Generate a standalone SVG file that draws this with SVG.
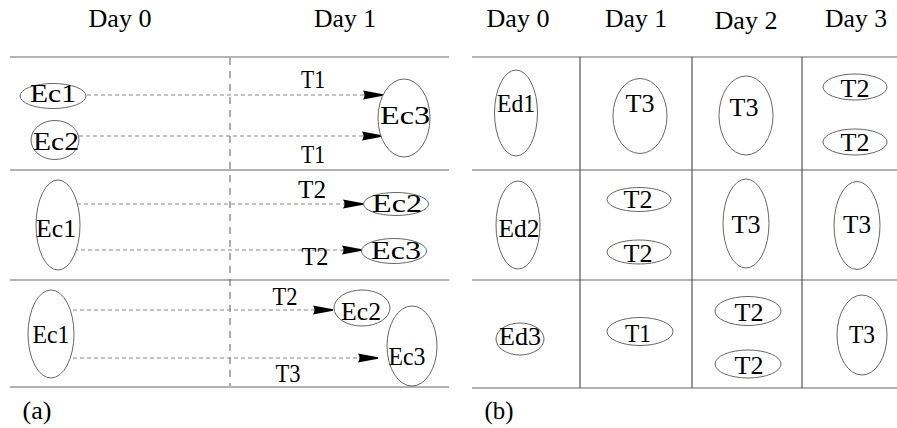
<svg xmlns="http://www.w3.org/2000/svg" width="897" height="428" viewBox="0 0 897 428">
<style>
text{font-family:"Liberation Serif","Times New Roman",Times,serif;font-size:26px;fill:#000;text-anchor:middle}
.n{fill:#fff;stroke:#666;stroke-width:1}
.h{stroke:#999;stroke-width:1.6}
.v{stroke:#555;stroke-width:1.2}
.vd{stroke:#777;stroke-width:1.2;stroke-dasharray:7 6}
.e{stroke:#888;stroke-width:1.2;stroke-dasharray:4 3;fill:none;marker-end:url(#ah)}
</style>
<defs>
<marker id="ah" markerUnits="userSpaceOnUse" markerWidth="22" markerHeight="12" refX="20" refY="5" orient="auto">
<path d="M0,0.5 L20,4.3 L20,5.7 L0,9.5 Q3,5 0,0.5 z" fill="#000"/>
</marker>
</defs>
<rect width="897" height="428" fill="#fff"/>
<g id="frame-a">
<text x="120" y="27" textLength="63" lengthAdjust="spacingAndGlyphs">Day 0</text>
<text x="345" y="27" textLength="62" lengthAdjust="spacingAndGlyphs">Day 1</text>
<line class="h" x1="10" y1="57" x2="449" y2="57"/>
<line class="h" x1="10" y1="170" x2="449" y2="170"/>
<line class="h" x1="10" y1="280" x2="449" y2="280"/>
<line class="h" x1="10" y1="387" x2="449" y2="387"/>
<line class="vd" x1="230" y1="58" x2="230" y2="386"/>
<text x="37" y="419" textLength="29" lengthAdjust="spacingAndGlyphs">(a)</text>
</g>
<g id="frame-b">
<text x="518" y="27" textLength="63" lengthAdjust="spacingAndGlyphs">Day 0</text>
<text x="636" y="27" textLength="62" lengthAdjust="spacingAndGlyphs">Day 1</text>
<text x="746" y="29" textLength="63" lengthAdjust="spacingAndGlyphs">Day 2</text>
<text x="856" y="27" textLength="62" lengthAdjust="spacingAndGlyphs">Day 3</text>
<line class="h" x1="472" y1="57" x2="897" y2="57"/>
<line class="h" x1="472" y1="170" x2="897" y2="170"/>
<line class="h" x1="472" y1="280" x2="897" y2="280"/>
<line class="h" x1="472" y1="388" x2="897" y2="388"/>
<line class="v" x1="580" y1="57" x2="580" y2="388"/>
<line class="v" x1="692" y1="57" x2="692" y2="388"/>
<line class="v" x1="802" y1="57" x2="802" y2="388"/>
<text x="499" y="419" textLength="29" lengthAdjust="spacingAndGlyphs">(b)</text>
</g>
<g id="connectors">
<line class="e" x1="87" y1="95" x2="383" y2="95"/>
<line class="e" x1="79" y1="136" x2="382" y2="136"/>
<line class="e" x1="77" y1="204" x2="363" y2="204"/>
<line class="e" x1="74" y1="250" x2="362" y2="250"/>
<line class="e" x1="73" y1="310" x2="333" y2="310"/>
<line class="e" x1="73" y1="358" x2="378" y2="358"/>
<text x="313" y="88" textLength="24" lengthAdjust="spacingAndGlyphs">T1</text>
<text x="313" y="163" textLength="24" lengthAdjust="spacingAndGlyphs">T1</text>
<text x="312" y="198" textLength="28" lengthAdjust="spacingAndGlyphs">T2</text>
<text x="315" y="265" textLength="27" lengthAdjust="spacingAndGlyphs">T2</text>
<text x="285" y="305" textLength="25" lengthAdjust="spacingAndGlyphs">T2</text>
<text x="288" y="382" textLength="25" lengthAdjust="spacingAndGlyphs">T3</text>
</g>
<g id="a1-ec1"><ellipse class="n" cx="53" cy="96" rx="33" ry="12.5"/><text x="53" y="102" textLength="46" lengthAdjust="spacingAndGlyphs">Ec1</text></g>
<g id="a1-ec2"><ellipse class="n" cx="55" cy="140" rx="24" ry="19.5"/><text x="56" y="150" textLength="46" lengthAdjust="spacingAndGlyphs">Ec2</text></g>
<g id="a1-ec3"><ellipse class="n" cx="404" cy="118" rx="26" ry="39"/><text x="405" y="124" textLength="50" lengthAdjust="spacingAndGlyphs">Ec3</text></g>
<g id="a2-ec1"><ellipse class="n" cx="58" cy="225" rx="22" ry="45"/><text x="56" y="237" textLength="40" lengthAdjust="spacingAndGlyphs">Ec1</text></g>
<g id="a2-ec2"><ellipse class="n" cx="396" cy="204" rx="32.5" ry="11.5"/><text x="397" y="212" textLength="50" lengthAdjust="spacingAndGlyphs">Ec2</text></g>
<g id="a2-ec3"><ellipse class="n" cx="394" cy="251" rx="32.5" ry="12.5"/><text x="396" y="259" textLength="50" lengthAdjust="spacingAndGlyphs">Ec3</text></g>
<g id="a3-ec1"><ellipse class="n" cx="51" cy="334" rx="23" ry="44"/><text x="51" y="343" textLength="37" lengthAdjust="spacingAndGlyphs">Ec1</text></g>
<g id="a3-ec2"><ellipse class="n" cx="362" cy="308" rx="28" ry="18"/><text x="361" y="320" textLength="40" lengthAdjust="spacingAndGlyphs">Ec2</text></g>
<g id="a3-ec3"><ellipse class="n" cx="412" cy="346" rx="25" ry="40"/><text x="407" y="365" textLength="37" lengthAdjust="spacingAndGlyphs">Ec3</text></g>
<g id="b1-ed1"><ellipse class="n" cx="516" cy="113" rx="21.5" ry="43"/><text x="516" y="112" textLength="38" lengthAdjust="spacingAndGlyphs">Ed1</text></g>
<g id="b1-t3a"><ellipse class="n" cx="640" cy="116" rx="27" ry="37.5"/><text x="640" y="112" textLength="29" lengthAdjust="spacingAndGlyphs">T3</text></g>
<g id="b1-t3b"><ellipse class="n" cx="746" cy="115.5" rx="27" ry="39.5"/><text x="744" y="116" textLength="29" lengthAdjust="spacingAndGlyphs">T3</text></g>
<g id="b1-t2a"><ellipse class="n" cx="855" cy="87" rx="32" ry="13"/><text x="855" y="97" textLength="29" lengthAdjust="spacingAndGlyphs">T2</text></g>
<g id="b1-t2b"><ellipse class="n" cx="855" cy="142" rx="32" ry="13"/><text x="855" y="151" textLength="29" lengthAdjust="spacingAndGlyphs">T2</text></g>
<g id="b2-ed2"><ellipse class="n" cx="518" cy="225" rx="22" ry="44"/><text x="519" y="237" textLength="41" lengthAdjust="spacingAndGlyphs">Ed2</text></g>
<g id="b2-t2a"><ellipse class="n" cx="639" cy="199.5" rx="32" ry="12"/><text x="638" y="208" textLength="29" lengthAdjust="spacingAndGlyphs">T2</text></g>
<g id="b2-t2b"><ellipse class="n" cx="639" cy="252" rx="32" ry="12"/><text x="638" y="262" textLength="29" lengthAdjust="spacingAndGlyphs">T2</text></g>
<g id="b2-t3a"><ellipse class="n" cx="746" cy="223.5" rx="23" ry="44.5"/><text x="746" y="233" textLength="29" lengthAdjust="spacingAndGlyphs">T3</text></g>
<g id="b2-t3b"><ellipse class="n" cx="857" cy="225.5" rx="23" ry="44"/><text x="857" y="233" textLength="28" lengthAdjust="spacingAndGlyphs">T3</text></g>
<g id="b3-ed3"><ellipse class="n" cx="520" cy="339" rx="24" ry="16"/><text x="520" y="345" textLength="42" lengthAdjust="spacingAndGlyphs">Ed3</text></g>
<g id="b3-t1"><ellipse class="n" cx="640" cy="331.5" rx="33" ry="14"/><text x="638" y="342" textLength="26" lengthAdjust="spacingAndGlyphs">T1</text></g>
<g id="b3-t2a"><ellipse class="n" cx="748" cy="311" rx="33" ry="14.5"/><text x="749" y="321" textLength="29" lengthAdjust="spacingAndGlyphs">T2</text></g>
<g id="b3-t2b"><ellipse class="n" cx="748" cy="364" rx="33" ry="14"/><text x="749" y="374" textLength="29" lengthAdjust="spacingAndGlyphs">T2</text></g>
<g id="b3-t3"><ellipse class="n" cx="862" cy="335" rx="25" ry="40"/><text x="862" y="343" textLength="26" lengthAdjust="spacingAndGlyphs">T3</text></g>
</svg>
